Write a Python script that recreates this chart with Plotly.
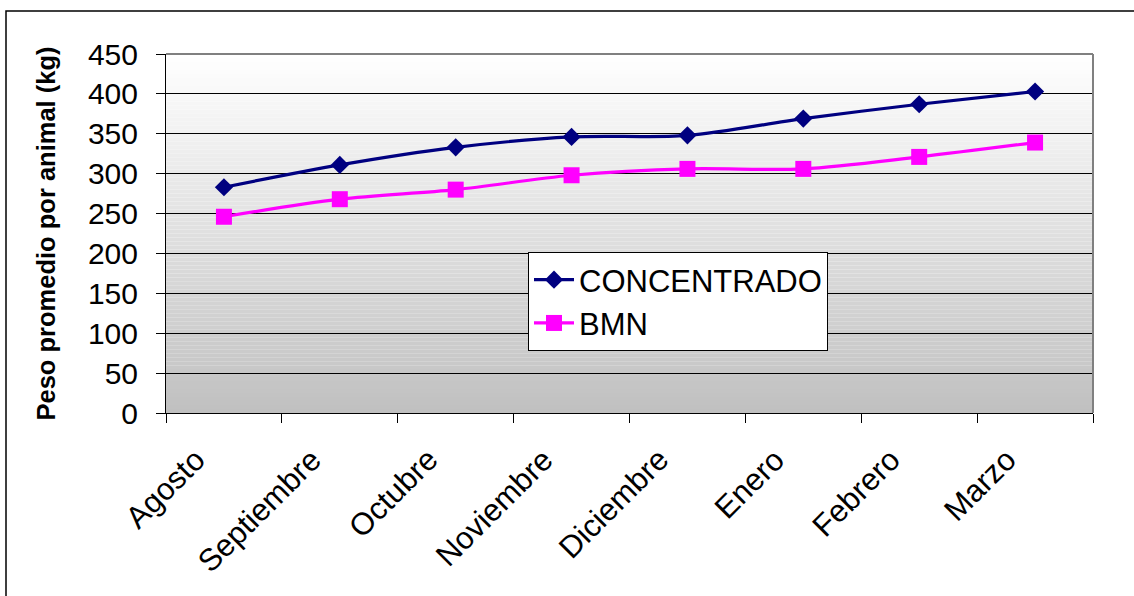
import plotly.graph_objects as go

months = ["Agosto", "Septiembre", "Octubre", "Noviembre", "Diciembre", "Enero", "Febrero", "Marzo"]
concentrado = [283, 311, 333, 346, 348, 369, 387, 403]
bmn = [246, 268, 280, 298, 306, 306, 321, 339]
y_ticks = [0, 50, 100, 150, 200, 250, 300, 350, 400, 450]

FONT = "Liberation Sans, Arial, sans-serif"

fig = go.Figure()
fig.add_trace(go.Scatter(
    x=months, y=concentrado, name="CONCENTRADO", mode="lines+markers",
    line=dict(color="#000080", width=3.2, shape="spline", smoothing=0.9),
    marker=dict(symbol="diamond", size=14, color="#000080"),
    legendgroup="a",
))
fig.add_trace(go.Scatter(
    x=months, y=bmn, name="BMN", mode="lines+markers",
    line=dict(color="#FF00FF", width=3.2, shape="spline", smoothing=0.9),
    marker=dict(symbol="square", size=16, color="#FF00FF"),
    legendgroup="b",
))

# gradient background of plot area (white at top -> silver at bottom)
shapes = []
n = 90
for i in range(n):
    f = (i + 0.5) / n
    c = int(round(192 + (255 - 192) * f))
    shapes.append(dict(type="rect", xref="x domain", yref="y domain",
                       x0=0, x1=1, y0=i / n, y1=(i + 1) / n,
                       fillcolor=f"rgb({c},{c},{c})", line=dict(width=0), layer="below"))
# plot-area border top / right (gray)
shapes.append(dict(type="line", xref="x domain", yref="y domain", x0=0, x1=1, y0=1, y1=1,
                   line=dict(color="#808080", width=2), layer="above"))
shapes.append(dict(type="line", xref="x domain", yref="y domain", x0=1, x1=1, y0=0, y1=1,
                   line=dict(color="#808080", width=2), layer="above"))
# outer chart frame
L, R, T, B = 166, 41, 54, 183
W, H = 1134, 596
pw, ph = W - L - R, H - T - B
shapes.append(dict(type="rect", xref="paper", yref="paper",
                   x0=(6 - L) / pw, x1=(W + 20 - L) / pw,
                   y0=(H - B - (H + 20)) / ph, y1=(H - B - 11) / ph,
                   line=dict(color="#000000", width=1.5), fillcolor="rgba(0,0,0,0)", layer="below"))

# category labels (rotated) as annotations on the category axis
annotations = [
    dict(x=m, y=0, xref="x", yref="paper", text=m, showarrow=False,
         textangle=-45, xanchor="right", yanchor="top", xshift=-9, yshift=-26,
         font=dict(size=31, family=FONT, color="black"))
    for m in months
]

fig.update_layout(
    width=W, height=H,
    margin=dict(l=L, r=R, t=T, b=B),
    paper_bgcolor="white", plot_bgcolor="white",
    font=dict(family=FONT, color="black"),
    shapes=shapes,
    annotations=annotations,
    showlegend=True,
    legend=dict(
        x=(528 - L) / pw, y=(H - B - 252) / ph, xanchor="left", yanchor="top",
        bgcolor="white", bordercolor="black", borderwidth=1,
        font=dict(size=31, family=FONT), tracegroupgap=0,
        itemwidth=40,
    ),
)
fig.update_xaxes(
    type="category", range=[-0.5, 7.5],
    showgrid=False, showline=True, linecolor="black", linewidth=1,
    ticks="outside", tickson="boundaries", ticklen=9, tickcolor="black",
    showticklabels=False,
)
fig.update_yaxes(
    range=[0, 450], tickvals=y_ticks,
    showgrid=True, gridcolor="black", gridwidth=1,
    showline=True, linecolor="black", linewidth=1,
    ticks="outside", ticklen=9, tickcolor="black",
    tickfont=dict(size=30, family=FONT),
    ticklabelstandoff=12,
    zeroline=False,
    title=dict(text="Peso promedio por animal (kg)",
               font=dict(size=25.5, family=FONT, weight="bold"), standoff=25),
)

fig.write_html("out.html", config={"displayModeBar": False},
               post_script="document.body.style.margin='0';")
